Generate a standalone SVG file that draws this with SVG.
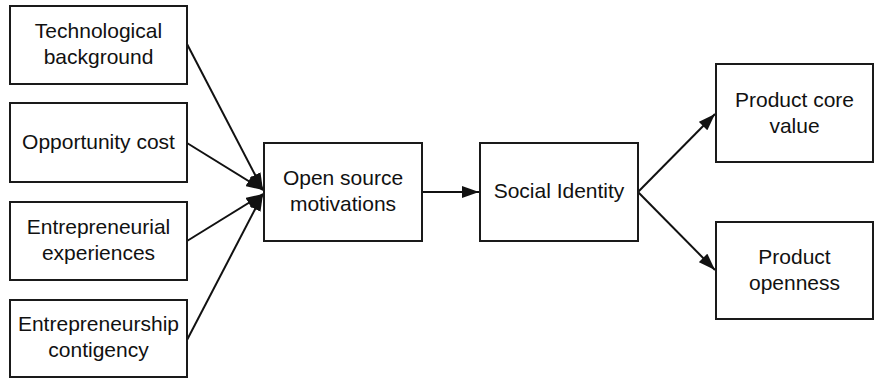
<svg xmlns="http://www.w3.org/2000/svg" width="878" height="379" viewBox="0 0 878 379">
<style>
.box{fill:#fff;stroke:#1a1a1a;stroke-width:2}
.t{font-family:"Liberation Sans",Arial,sans-serif;font-size:21px;fill:#111;text-anchor:middle}
.c{stroke:#111;stroke-width:2;fill:none;marker-end:url(#ah)}
</style>
<defs>
<marker id="ah" viewBox="0 0 17 12" refX="17" refY="6" markerWidth="17" markerHeight="12" markerUnits="userSpaceOnUse" orient="auto">
<path d="M0,0 L17,6 L0,12 Z" fill="#111"/>
</marker>
</defs>
<rect width="878" height="379" fill="#fff"/>
<g id="connectors">
<line class="c" x1="187" y1="44" x2="263" y2="190"/>
<line class="c" x1="187" y1="143" x2="263" y2="190"/>
<line class="c" x1="187" y1="241" x2="263" y2="194"/>
<line class="c" x1="187" y1="340" x2="263" y2="194"/>
<line class="c" x1="422" y1="192" x2="479" y2="192"/>
<line class="c" x1="638" y1="192" x2="715" y2="114"/>
<line class="c" x1="638" y1="192" x2="715" y2="270"/>
</g>
<g id="n1"><rect class="box" x="10" y="6" width="177" height="78"/><text class="t" x="98.5" y="38">Technological</text><text class="t" x="98.5" y="64">background</text></g>
<g id="n2"><rect class="box" x="10" y="103" width="177" height="79"/><text class="t" x="98.5" y="149">Opportunity cost</text></g>
<g id="n3"><rect class="box" x="10" y="202" width="177" height="78"/><text class="t" x="98.5" y="234">Entrepreneurial</text><text class="t" x="98.5" y="260">experiences</text></g>
<g id="n4"><rect class="box" x="10" y="300" width="177" height="77"/><text class="t" x="98.5" y="331">Entrepreneurship</text><text class="t" x="98.5" y="357">contigency</text></g>
<g id="n5"><rect class="box" x="264" y="143" width="158" height="98"/><text class="t" x="343" y="185">Open source</text><text class="t" x="343" y="211">motivations</text></g>
<g id="n6"><rect class="box" x="480" y="143" width="158" height="98"/><text class="t" x="559" y="198">Social Identity</text></g>
<g id="n7"><rect class="box" x="716" y="64" width="157" height="98"/><text class="t" x="794.5" y="107">Product core</text><text class="t" x="794.5" y="133">value</text></g>
<g id="n8"><rect class="box" x="716" y="222" width="157" height="97"/><text class="t" x="794.5" y="264">Product</text><text class="t" x="794.5" y="290">openness</text></g>
</svg>
